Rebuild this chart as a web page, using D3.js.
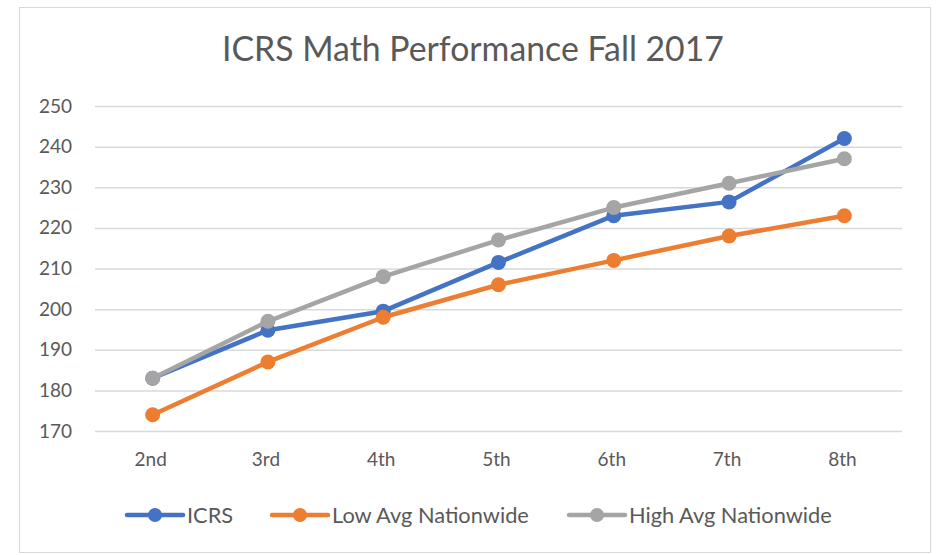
<!DOCTYPE html>
<html>
<head>
<meta charset="utf-8">
<script src="https://cdn.jsdelivr.net/npm/d3@7"></script>
<style>
	body { margin: 0; background: #fff; }
	svg { display: block; font-family: Lato, "Open Sans", sans-serif; }
</style>
</head>
<body>
<svg id="chart" width="936" height="555"></svg>
<script>
'use strict';

var grades = ['2nd', '3rd', '4th', '5th', '6th', '7th', '8th'];
var icrs = [183, 194.8, 199.5, 211.5, 223, 226.4, 242];
var lowAvg = [174, 187, 198, 206, 212, 218, 223];
var highAvg = [183, 197, 208, 217, 225, 231, 237];
var yTicks = [170, 180, 190, 200, 210, 220, 230, 240, 250];

var series = [
	{ name: 'ICRS', values: icrs, color: '#4472c4' },
	{ name: 'Low Avg Nationwide', values: lowAvg, color: '#ed7d31' },
	{ name: 'High Avg Nationwide', values: highAvg, color: '#a5a5a5' }
];

var svg = d3.select('#chart');
var plot = { left: 95, right: 902, top: 106, bottom: 431 };

var x = d3.scaleBand()
	.domain(grades)
	.range([plot.left, plot.right]);

var y = d3.scaleLinear()
	.domain([170, 250])
	.range([plot.bottom, plot.top]);

// chart frame
svg.append('rect')
	.attr('x', 19.5)
	.attr('y', 7.5)
	.attr('width', 911)
	.attr('height', 545)
	.attr('fill', '#fff')
	.attr('stroke', '#d9d9d9')
	.attr('stroke-width', 1);

svg.append('text')
	.attr('x', 473)
	.attr('y', 61)
	.attr('text-anchor', 'middle')
	.attr('fill', '#595959')
	.style('font-size', '33.8px')
	.text('ICRS Math Performance Fall 2017');

// gridlines and y labels
var yAxis = d3.axisLeft(y)
	.tickValues(yTicks)
	.tickSize(plot.left - plot.right)
	.tickPadding(23);

var gy = svg.append('g')
	.attr('transform', 'translate(' + plot.left + ',0)')
	.call(yAxis);
gy.select('.domain').remove();
gy.selectAll('.tick line')
	.attr('stroke', '#d9d9d9')
	.attr('stroke-width', 1.5);
gy.selectAll('.tick text')
	.attr('fill', '#595959')
	.style('font-size', '19px')
	.style('font-family', 'Lato, "Open Sans", sans-serif');

var xAxis = d3.axisBottom(x)
	.tickSize(0)
	.tickPadding(22);

var gx = svg.append('g')
	.attr('transform', 'translate(-2,' + plot.bottom + ')')
	.call(xAxis);
gx.select('.domain').remove();
gx.selectAll('.tick text')
	.attr('fill', '#595959')
	.style('font-size', '19px')
	.style('font-family', 'Lato, "Open Sans", sans-serif');

var cx = function(d, i) { return x(grades[i]) + x.bandwidth() / 2; };

var line = d3.line()
	.x(cx)
	.y(function(d) { return y(d); });

series.forEach(function(s) {
	var g = svg.append('g');
	g.append('path')
		.datum(s.values)
		.attr('d', line)
		.attr('fill', 'none')
		.attr('stroke', s.color)
		.attr('stroke-width', 4.5)
		.attr('stroke-linejoin', 'round')
		.attr('stroke-linecap', 'round');
	g.selectAll('circle')
		.data(s.values)
		.enter()
		.append('circle')
		.attr('cx', cx)
		.attr('cy', function(d) { return y(d); })
		.attr('r', 7.5)
		.attr('fill', s.color);
});

// legend
var legendX = [127, 272, 569];
var legend = svg.append('g');
series.forEach(function(s, i) {
	var g = legend.append('g')
		.attr('transform', 'translate(' + legendX[i] + ',515)');
	g.append('line')
		.attr('x1', 0)
		.attr('x2', 56)
		.attr('stroke', s.color)
		.attr('stroke-width', 4.5)
		.attr('stroke-linecap', 'round');
	g.append('circle')
		.attr('cx', 28)
		.attr('r', 7)
		.attr('fill', s.color);
	g.append('text')
		.attr('x', 60)
		.attr('dy', '0.36em')
		.attr('fill', '#595959')
		.style('font-size', '21.8px')
		.text(s.name);
});
</script>
</body>
</html>
